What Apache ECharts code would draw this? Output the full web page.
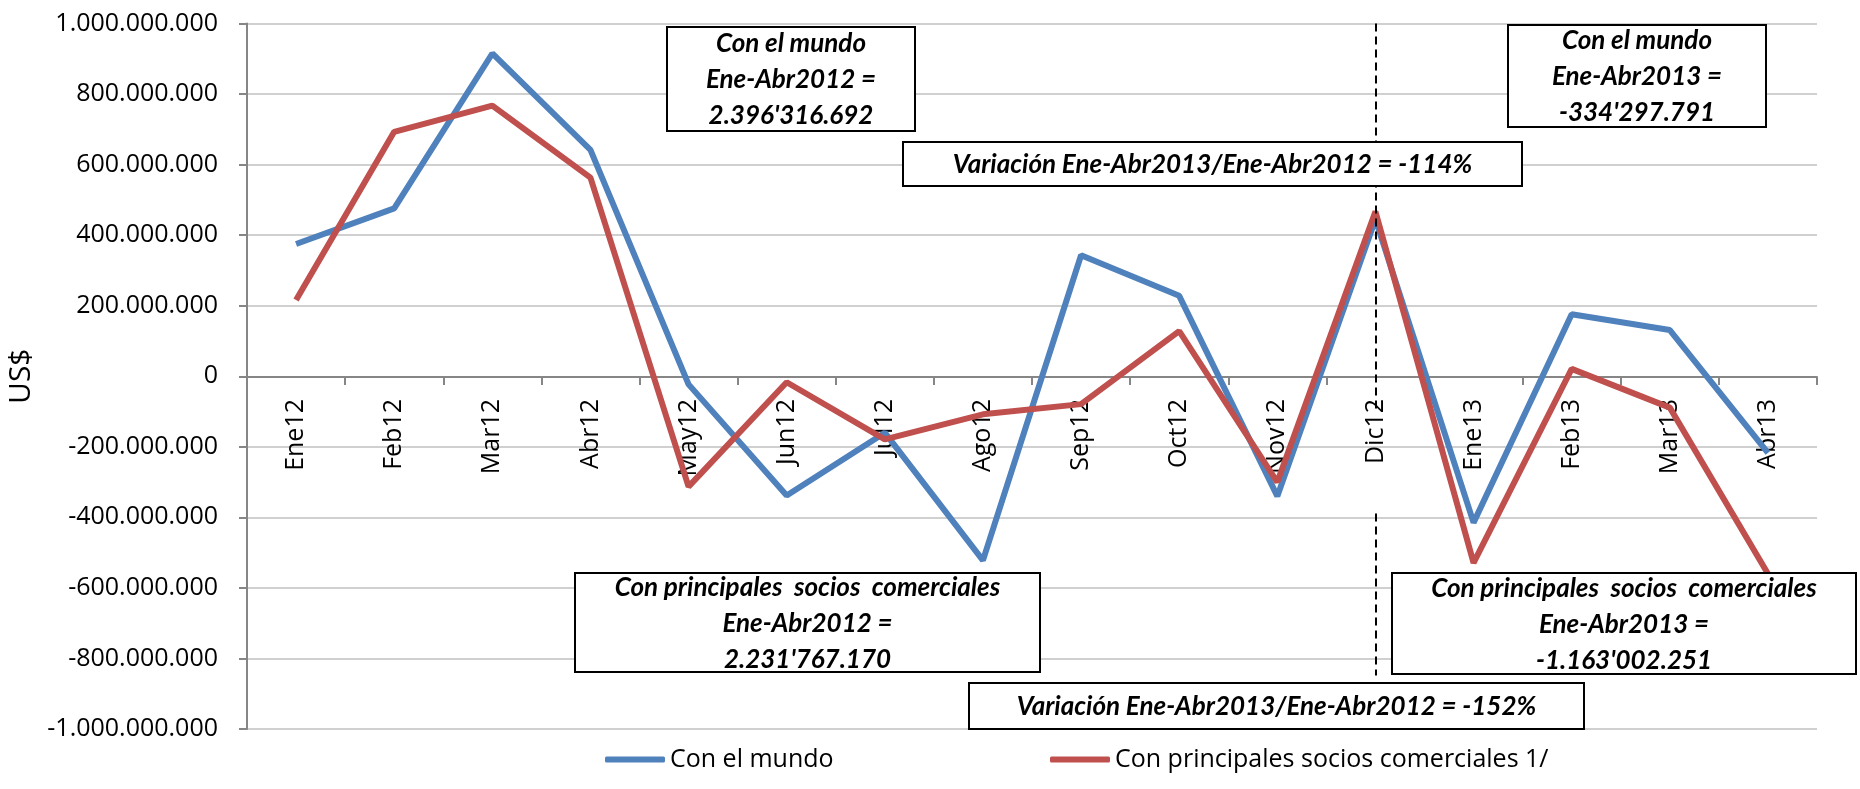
<!DOCTYPE html>
<html>
<head>
<meta charset="utf-8">
<script src="https://cdn.jsdelivr.net/npm/echarts@6.0.0/dist/echarts.min.js"></script>
<style>
html, body { margin: 0; padding: 0; background: #fff; }
#chart { width: 1860px; height: 789px; }
</style>
</head>
<body>
<div id="chart"></div>
<script>
// meses
var categories = ['Ene12', 'Feb12', 'Mar12', 'Abr12', 'May12', 'Jun12', 'Jul12', 'Ago12',
                  'Sep12', 'Oct12', 'Nov12', 'Dic12', 'Ene13', 'Feb13', 'Mar13', 'Abr13'];

// balanza comercial, US$
var conElMundo = [375000000, 476000000, 915000000, 642000000, -23000000, -338000000, -160000000, -522000000,
                  343000000, 228000000, -340000000, 445000000, -415000000, 176000000, 131000000, -217000000];
var conSocios = [216000000, 693000000, 767000000, 563000000, -313000000, -17000000, -179000000, -108000000,
                 -79000000, 128000000, -300000000, 467000000, -529000000, 21000000, -89000000, -560000000];

var seriesNames = ['Con el mundo', 'Con principales socios comerciales 1/'];

// cortes del eje vertical
var yMin = -1000000000;
var yMax = 1000000000;
var yStep = 200000000;

// líneas punteadas en Dic12 (tramos)
var dividerCategory = 'Dic12';
var dividerSegments = [[1000000000, -94000000], [-389000000, -848000000]];

var notes = [
    { text: "Con el mundo\nEne-Abr2012 =\n2.396'316.692", box: [667, 27, 248, 104] },
    { text: "Con el mundo\nEne-Abr2013 =\n-334'297.791", box: [1508, 25, 258, 102] },
    { text: "Variación Ene-Abr2013/Ene-Abr2012 = -114%", box: [903, 142, 619, 44] },
    { text: "Con principales  socios  comerciales\nEne-Abr2012 =\n2.231'767.170", box: [575, 573, 465, 99] },
    { text: "Con principales  socios  comerciales\nEne-Abr2013 =\n-1.163'002.251", box: [1392, 573, 464, 101] },
    { text: "Variación Ene-Abr2013/Ene-Abr2012 = -152%", box: [969, 683, 615, 46] }
];

function puntos(v) {
    var s = Math.abs(v).toString().replace(/\B(?=(\d{3})+(?!\d))/g, '.');
    return (v < 0 ? '-' : '') + s;
}

var myChart = echarts.init(document.getElementById('chart'));

var graphics = [];
notes.forEach(function (n) {
    graphics.push({
        type: 'rect',
        z: 100,
        shape: { x: n.box[0], y: n.box[1], width: n.box[2], height: n.box[3] },
        style: { fill: '#fff', stroke: '#000', lineWidth: 2 }
    });
    graphics.push({
        type: 'text',
        z: 101,
        style: {
            text: n.text,
            x: n.box[0] + n.box[2] / 2,
            y: n.box[1] + n.box[3] / 2 + 1,
            textAlign: 'center',
            textVerticalAlign: 'middle',
            font: 'italic bold 26px Lato',
            lineHeight: 36,
            fill: '#000'
        }
    });
});

var option = {
    animation: false,
    backgroundColor: '#fff',
    grid: {
        left: 247,
        right: 43,
        top: 23.5,
        bottom: 60,
        containLabel: false,
        outerBoundsMode: 'none'
    },
    legend: [{
        data: [seriesNames[0]],
        left: 600,
        top: 742,
        icon: 'roundRect',
        itemWidth: 60,
        itemHeight: 6,
        itemGap: 5,
        textStyle: { fontFamily: 'Open Sans', fontSize: 25, color: '#000' }
    }, {
        data: [seriesNames[1]],
        left: 1045,
        top: 742,
        icon: 'roundRect',
        itemWidth: 60,
        itemHeight: 6,
        itemGap: 5,
        textStyle: { fontFamily: 'Open Sans', fontSize: 25, color: '#000' }
    }],
    xAxis: {
        type: 'category',
        data: categories,
        boundaryGap: true,
        position: 'bottom',
        // eje en el cero: desplazado hacia arriba desde el borde inferior
        offset: -352,
        axisLine: { onZero: false, lineStyle: { color: '#868686', width: 2 } },
        axisTick: { show: true, interval: 0, length: 8, lineStyle: { color: '#868686', width: 2 } },
        axisLabel: {
            interval: 0,
            rotate: 90,
            margin: 22,
            fontFamily: 'Open Sans',
            fontSize: 25,
            color: '#000'
        },
        splitLine: { show: false }
    },
    yAxis: {
        type: 'value',
        min: yMin,
        max: yMax,
        interval: yStep,
        name: 'US$',
        nameLocation: 'middle',
        nameGap: 198,
        nameTextStyle: { fontFamily: 'Open Sans', fontSize: 30, color: '#000' },
        axisLine: { show: true, lineStyle: { color: '#868686', width: 2 } },
        axisTick: { show: true, length: 8, lineStyle: { color: '#868686', width: 2 } },
        axisLabel: {
            margin: 29,
            fontFamily: 'Open Sans',
            fontSize: 25,
            color: '#000',
            formatter: puntos
        },
        splitLine: { lineStyle: { color: '#c0c0c0', width: 1.5 } }
    },
    series: [{
        name: seriesNames[0],
        type: 'line',
        data: conElMundo,
        symbol: 'none',
        lineStyle: { width: 6, color: '#4F81BD' },
        itemStyle: { color: '#4F81BD' },
        markLine: {
            silent: true,
            symbol: 'none',
            label: { show: false },
            lineStyle: { type: [8, 5], color: '#000', width: 2 },
            data: dividerSegments.map(function (s) {
                return [{ coord: [dividerCategory, s[0]] }, { coord: [dividerCategory, s[1]] }];
            })
        }
    }, {
        name: seriesNames[1],
        type: 'line',
        data: conSocios,
        symbol: 'none',
        lineStyle: { width: 6, color: '#C0504D' },
        itemStyle: { color: '#C0504D' }
    }],
    graphic: graphics
};

myChart.setOption(option);
</script>
</body>
</html>
